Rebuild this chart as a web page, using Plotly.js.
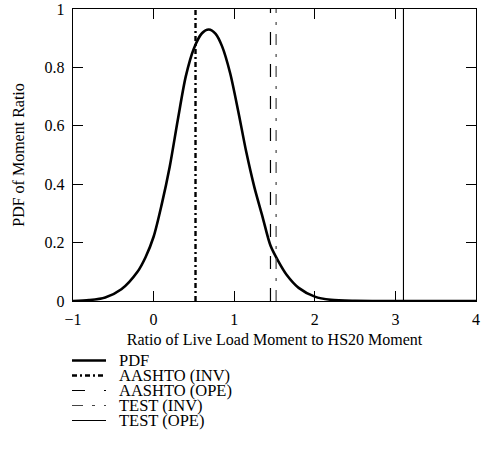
<!DOCTYPE html>
<html>
<head>
<meta charset="utf-8">
<script src="https://cdn.plot.ly/plotly-3.0.1.min.js"></script>
<style>html,body{margin:0;padding:0;background:#fff;}#chart{width:486px;height:450px;}</style>
</head>
<body>
<div id="chart"></div>
<script>
// PDF curve
var pdfX = [-1.0, -0.8, -0.6, -0.4, -0.2, -0.1, 0.0, 0.1, 0.2, 0.3, 0.4, 0.5, 0.6, 0.685, 0.77, 0.85, 0.95, 1.05, 1.15, 1.25, 1.35, 1.45, 1.55, 1.65, 1.8, 2.0, 2.2, 2.5, 3.0, 4.0];
var pdfY = [0.0, 0.003, 0.012, 0.04, 0.1, 0.15, 0.22, 0.33, 0.46, 0.62, 0.77, 0.865, 0.917, 0.93, 0.915, 0.872, 0.78, 0.65, 0.51, 0.39, 0.29, 0.19, 0.135, 0.09, 0.045, 0.015, 0.004, 0.0005, 0.0, 0.0];

// Vertical rating lines
var lineNames = ["AASHTO (INV)", "AASHTO (OPE)", "TEST (INV)", "TEST (OPE)"];
var lineX = [0.52, 1.45, 1.52, 3.10];

var seriesNames = ["PDF"].concat(lineNames);
var xTicks = [-1, 0, 1, 2, 3, 4];
var yTicks = [0, 0.2, 0.4, 0.6, 0.8, 1];

var styles = [
  {color: "#000", width: 2.6, dash: "solid"},
  {color: "#000", width: 2.4, dash: "5px,3px,2px,3px"},
  {color: "#000", width: 1.2, dash: "13px,19px"},
  {color: "#444", width: 1.2, dash: "11px,9px,3px,9px"},
  {color: "#000", width: 1.1, dash: "solid"}
];

var FONT = "Liberation Serif, Times New Roman, serif";

var traces = [{
  x: pdfX, y: pdfY, mode: "lines", name: seriesNames[0],
  line: {color: styles[0].color, width: styles[0].width, shape: "spline", smoothing: 0.8},
  cliponaxis: true, showlegend: false
}];
for (var i = 0; i < lineX.length; i++) {
  traces.push({
    x: [lineX[i], lineX[i]], y: [yTicks[0], yTicks[yTicks.length - 1]],
    mode: "lines", name: lineNames[i], showlegend: false,
    line: {color: styles[i + 1].color, width: styles[i + 1].width, dash: styles[i + 1].dash}
  });
}

// Manual legend (pixel positions converted to paper coords)
var L = 73, T = 9, W = 403, H = 292;
function px2x(p) { return (p - L) / W; }
function px2y(p) { return (T + H - p) / H; }
var shapes = [], annotations = [];
var legTop = 360.5, legStep = 15;
for (var k = 0; k < seriesNames.length; k++) {
  var yy = px2y(legTop + k * legStep);
  shapes.push({type: "line", xref: "paper", yref: "paper",
    x0: px2x(72), x1: px2x(106), y0: yy, y1: yy,
    line: {color: styles[k].color, width: Math.min(styles[k].width, 2.4), dash: styles[k].dash}});
  annotations.push({xref: "paper", yref: "paper", x: px2x(117), y: yy, xanchor: "left", yanchor: "middle",
    text: seriesNames[k], showarrow: false, font: {family: FONT, size: 16.5, color: "#000"}});
}

var layout = {
  width: 486, height: 450,
  margin: {l: L, r: 486 - L - W, t: T, b: 450 - T - H},
  paper_bgcolor: "#fff", plot_bgcolor: "#fff",
  font: {family: FONT, size: 16, color: "#000"},
  showlegend: false,
  xaxis: {
    range: [-1, 4], tickvals: xTicks, ticktext: xTicks.map(function (v) { return v < 0 ? "\u2212" + Math.abs(v) : String(v); }),
    ticks: "inside", ticklen: 10, tickwidth: 1, tickcolor: "#000",
    showline: true, linecolor: "#000", linewidth: 1.2, mirror: "allticks",
    showgrid: false, zeroline: false, ticklabelstandoff: 4,
    title: {text: "Ratio of Live Load Moment to HS20 Moment", font: {family: FONT, size: 16}, standoff: 6},
    tickfont: {family: FONT, size: 16}
  },
  yaxis: {
    range: [0, 1], tickvals: yTicks, ticktext: yTicks.map(function (v) { return String(v); }),
    ticks: "inside", ticklen: 10, tickwidth: 1, tickcolor: "#000",
    showline: true, linecolor: "#000", linewidth: 1.2, mirror: "allticks",
    showgrid: false, zeroline: false, ticklabelstandoff: 4,
    title: {text: "PDF of Moment Ratio", font: {family: FONT, size: 16}, standoff: 16},
    tickfont: {family: FONT, size: 16}
  },
  shapes: shapes,
  annotations: annotations
};

Plotly.newPlot("chart", traces, layout, {staticPlot: true, displayModeBar: false});
</script>
</body>
</html>
